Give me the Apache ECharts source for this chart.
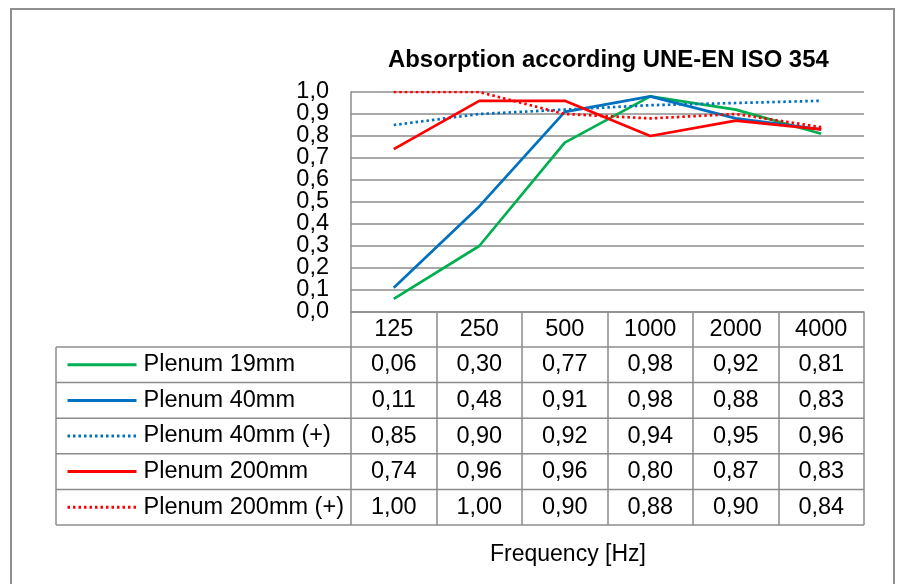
<!DOCTYPE html>
<html>
<head>
<meta charset="utf-8">
<script src="https://cdn.jsdelivr.net/npm/echarts@6/dist/echarts.min.js"></script>
<style>
html,body{margin:0;padding:0;background:#fff;}
#c{width:901px;height:584px;}
</style>
</head>
<body>
<div id="c"></div>
<script>
// ---- data ----
const frequencies = ['125', '250', '500', '1000', '2000', '4000'];
const seriesNames = ['Plenum 19mm', 'Plenum 40mm', 'Plenum 40mm (+)', 'Plenum 200mm', 'Plenum 200mm (+)'];
const plenum19 = [0.06, 0.30, 0.77, 0.98, 0.92, 0.81];
const plenum40 = [0.11, 0.48, 0.91, 0.98, 0.88, 0.83];
const plenum40plus = [0.85, 0.90, 0.92, 0.94, 0.95, 0.96];
const plenum200 = [0.74, 0.96, 0.96, 0.80, 0.87, 0.83];
const plenum200plus = [1.00, 1.00, 0.90, 0.88, 0.90, 0.84];
const yTicks = [0, 0.1, 0.2, 0.3, 0.4, 0.5, 0.6, 0.7, 0.8, 0.9, 1.0];

// ---- layout / style ----
const W = 901, H = 584;
const GL = 351, GR = 864, GT = 92, GB = 312;
const HEADER_H = 35, ROW_H = 35.6;
const TABLE_L = 56;
const FONT = 'Liberation Sans, Arial, sans-serif';
const FS = 23.5;
const LINE = '#8c8c8c';
const colors = ['#00b050', '#0070c0', '#0070c0', '#ff0000', '#ff0000'];
const types = ['solid', 'solid', [2.5, 3], 'solid', [2.5, 3]];
const allData = [plenum19, plenum40, plenum40plus, plenum200, plenum200plus];

const fmt2 = v => v.toFixed(2).replace('.', ',');
const fmt1 = v => v.toFixed(1).replace('.', ',');

const tableBottom = GB + HEADER_H + ROW_H * seriesNames.length;

const xAxes = [{
  type: 'category', data: frequencies, boundaryGap: true, position: 'bottom',
  axisLine: { show: true, lineStyle: { color: LINE, width: 1.5 } },
  axisTick: { show: true, interval: 0, length: tableBottom - GB, lineStyle: { color: LINE, width: 1.5 } },
  axisLabel: { fontSize: FS, fontFamily: FONT, color: '#000', margin: 6, interval: 0 }
}];
allData.forEach((arr, i) => {
  xAxes.push({
    type: 'category', data: frequencies, boundaryGap: true, position: 'bottom',
    offset: HEADER_H + ROW_H * i,
    axisLine: { show: false }, axisTick: { show: false },
    axisLabel: {
      fontSize: FS, fontFamily: FONT, color: '#000', margin: 6, interval: 0,
      formatter: (val, idx) => fmt2(arr[idx])
    }
  });
});

const graphics = [
  { type: 'rect', shape: { x: 11, y: 9, width: 883, height: 600 },
    style: { fill: 'none', stroke: '#8f8f8f', lineWidth: 2 }, z: 0 },
  { type: 'line', shape: { x1: TABLE_L, y1: GB + HEADER_H, x2: TABLE_L, y2: tableBottom },
    style: { stroke: LINE, lineWidth: 1.5 } }
];
for (let i = 0; i <= seriesNames.length; i++) {
  const y = GB + HEADER_H + ROW_H * i;
  graphics.push({ type: 'line', shape: { x1: TABLE_L, y1: y, x2: GR, y2: y },
    style: { stroke: LINE, lineWidth: 1.5 } });
}

const option = {
  backgroundColor: '#fff',
  animation: false,
  title: [{
    text: 'Absorption according UNE-EN ISO 354',
    left: 383, top: 43,
    textStyle: { fontFamily: FONT, fontSize: 23.9, fontWeight: 'bold', color: '#000' }
  }, {
    text: 'Frequency [Hz]',
    left: 485, top: 538,
    textStyle: { fontFamily: FONT, fontSize: 23, fontWeight: 'normal', color: '#000' }
  }],
  legend: {
    orient: 'vertical', left: 66, top: GB + HEADER_H + ROW_H / 2 - 12,
    padding: 0, itemWidth: 69, itemHeight: 14, itemGap: ROW_H - 24,
    selectedMode: false,
    itemStyle: { opacity: 0, borderWidth: 0 },
    lineStyle: { width: 3 },
    textStyle: { fontFamily: FONT, fontSize: FS, color: '#000', lineHeight: 24, padding: [0, 0, 0, 2] },
    data: seriesNames
  },
  grid: { left: GL, right: W - GR, top: GT, bottom: H - GB, containLabel: false },
  xAxis: xAxes,
  yAxis: [{
    type: 'value', min: 0, max: 1, interval: 0.1,
    axisLine: { show: true, lineStyle: { color: LINE, width: 1.5 } },
    axisTick: { show: false },
    splitLine: { show: true, lineStyle: { color: LINE, width: 1.5 } },
    axisLabel: { show: false }
  }, {
    type: 'category', data: yTicks.map(fmt1), boundaryGap: false, position: 'left',
    axisLine: { show: false }, axisTick: { show: false }, splitLine: { show: false },
    axisLabel: { fontSize: FS, fontFamily: FONT, color: '#000', margin: 22, interval: 0 }
  }],
  graphic: graphics,
  series: allData.map((arr, i) => ({
    name: seriesNames[i], type: 'line', data: arr, xAxisIndex: 0, yAxisIndex: 0,
    symbol: 'none', smooth: false,
    lineStyle: { color: colors[i], width: 2.7, type: types[i] },
    itemStyle: { color: colors[i] }
  }))
};

const chart = echarts.init(document.getElementById('c'), null, { renderer: 'canvas' });
chart.setOption(option);
</script>
</body>
</html>
